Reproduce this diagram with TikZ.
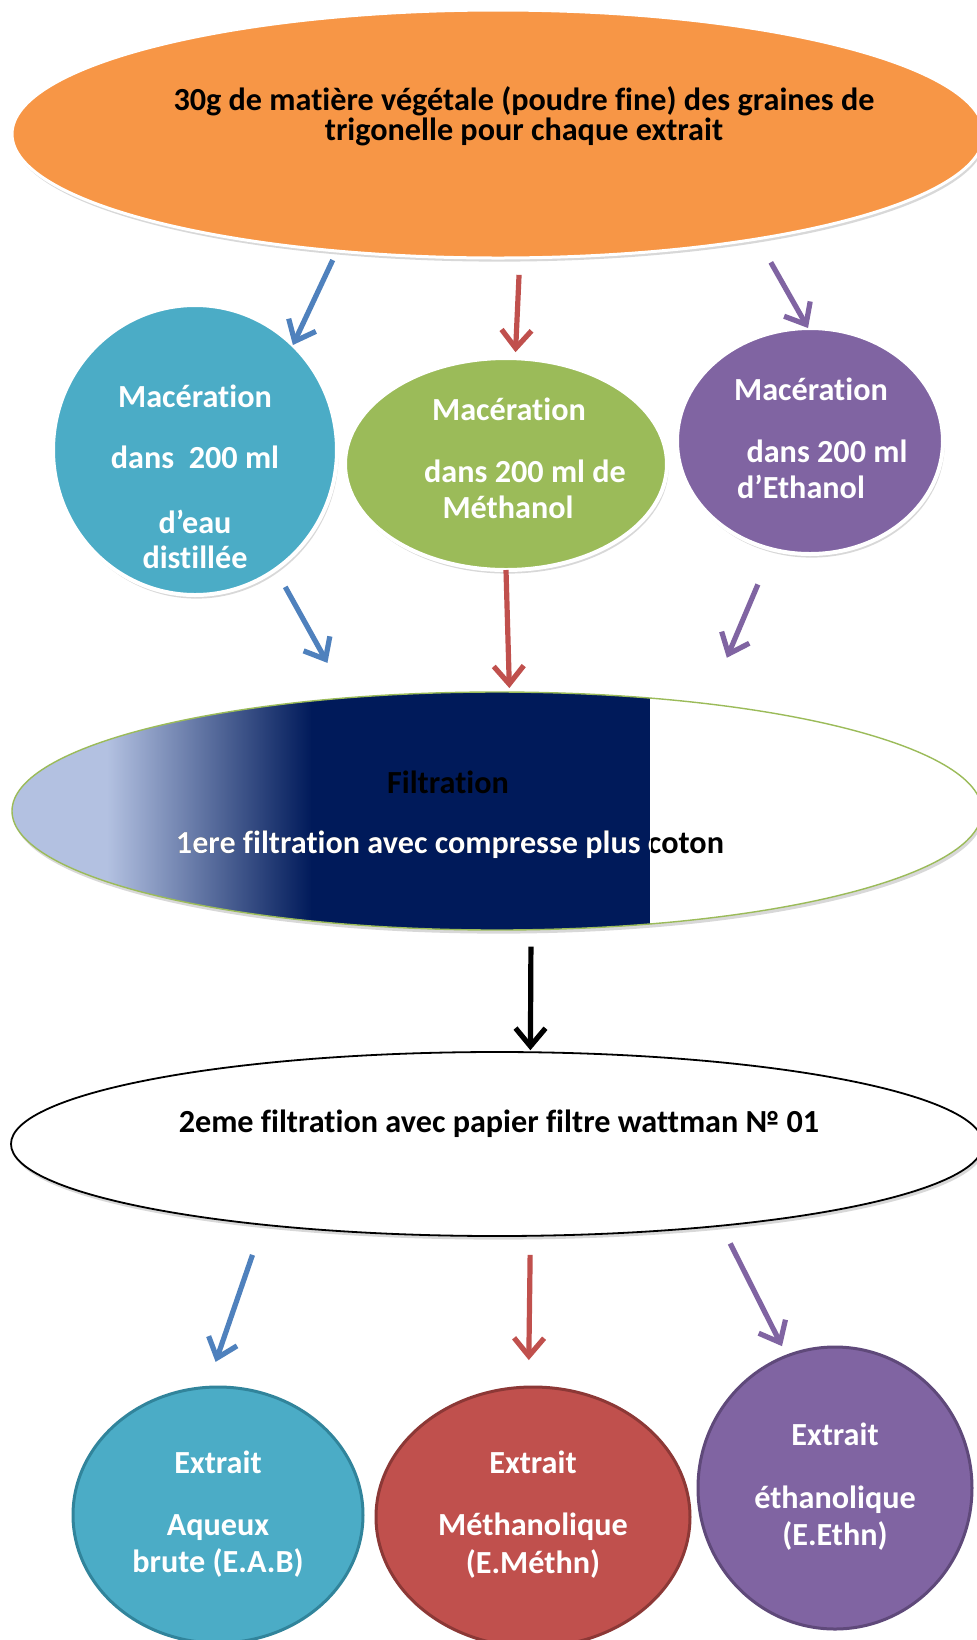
\documentclass[tikz,border=0pt]{standalone}
\usepackage{fontspec}
\setmainfont{Carlito}[Ligatures=NoCommon]
\usetikzlibrary{calc,shapes.geometric,arrows.meta,shadows}

\definecolor{orangeC}{HTML}{F79646}
\definecolor{canardC}{HTML}{4BACC6}
\definecolor{oliveC}{HTML}{9BBB59}
\definecolor{violetC}{HTML}{8064A2}
\definecolor{rougeC}{HTML}{C0504D}
\definecolor{flecheC}{HTML}{4F81BD}
\definecolor{marineC}{HTML}{001A5A}
\definecolor{clairC}{HTML}{B3C1E1}
\definecolor{bordcanard}{HTML}{31849B}
\definecolor{bordrouge}{HTML}{8C3836}
\definecolor{bordviolet}{HTML}{5F497A}

\begin{document}
\begin{tikzpicture}[
        x=0.5pt,y=-0.5pt
        ,forme/.style={ellipse,inner sep=0pt,outer sep=0pt}
        ,ombre/.style={drop shadow={opacity=0.3,shadow xshift=0.8pt,shadow yshift=-1.8pt}}
        ,macer/.style={forme,ombre,draw=white,line width=2pt}
        ,extr/.style={forme,line width=1.5pt}
        ,txt/.style={font=\bfseries\fontsize{16.1}{18}\selectfont,text=white,inner sep=0pt,anchor=base}
        ,noir/.style={txt,text=black}
        ,fleche/.style={line width=2.6pt,-{Straight Barb[length=9pt,width=15pt]}}
    ]
    \useasboundingbox[fill=white] (0,0) rectangle (976,1640);
    % Matiere vegetale
    \node[macer,fill=orangeC,line width=1.5pt,minimum width=486pt,minimum height=124pt] (top) at (498,134) {};
    \node[noir] (t1) at (524,110) {30g de matière végétale (poudre fine) des graines de};
    \node[noir] (t2) at (524,140) {trigonelle pour chaque extrait};
    % Macerations
    \node[macer,fill=canardC,minimum width=142pt,minimum height=145pt] (mac1) at (195,450) {};
    \node[macer,fill=oliveC,minimum width=161pt,minimum height=106pt] (mac2) at (506,464) {};
    \node[macer,fill=violetC,minimum width=133pt,minimum height=113pt] (mac3) at (810,441) {};
    \node[txt] (m1a) at (195,407) {Macération};
    \node[txt] (m1b) at (195,468) {dans~~200 ml};
    \node[txt] (m1c) at (195,533) {d’eau};
    \node[txt] (m1d) at (195,568) {distillée};
    \node[txt] (m2a) at (509,420) {Macération};
    \node[txt] (m2b) at (525,482) {dans 200 ml de};
    \node[txt] (m2c) at (508,518) {Méthanol};
    \node[txt] (m3a) at (811,400) {Macération};
    \node[txt] (m3b) at (827,462) {dans 200 ml};
    \node[txt] (m3c) at (801,498) {d’Ethanol};
    % Filtrations
    \node[forme,ombre,fill=white,draw=oliveC,line width=0.7pt,minimum width=485pt,minimum height=119pt
        ,path picture={
            \fill[clairC] (path picture bounding box.north west) rectangle ($(path picture bounding box.south west)+(96,0)$);
            \shade[left color=clairC,right color=marineC] ($(path picture bounding box.north west)+(95,0)$) rectangle ($(path picture bounding box.south west)+(300,0)$);
            \fill[marineC] ($(path picture bounding box.north west)+(299,0)$) rectangle ($(path picture bounding box.south west)+(638,0)$);
        }] (filt) at (497,811) {};
    \node[noir] (f1) at (448,793) {Filtration};
    \node[noir] (f2) at (450,853) {1ere filtration avec compresse plus coton};
    \begin{scope}
        \clip (0,680) rectangle (650,940);
        \node[txt] (f2w) at (450,853) {1ere filtration avec compresse plus coton};
    \end{scope}
    \node[forme,ombre,fill=white,draw=black,line width=0.9pt,minimum width=486pt,minimum height=92pt] (filt2) at (497,1144) {};
    \node[noir] (g1) at (499,1132) {2eme filtration avec papier filtre wattman № 01};
    % Extraits
    \node[extr,fill=canardC,draw=bordcanard,minimum width=145pt,minimum height=128pt] (ext1) at (218,1515) {};
    \node[extr,fill=rougeC,draw=bordrouge,minimum width=157pt,minimum height=130pt] (ext2) at (533,1517) {};
    \node[extr,fill=violetC,draw=bordviolet,minimum width=137pt,minimum height=141pt] (ext3) at (835,1488) {};
    \node[txt] (e1a) at (218,1473) {Extrait};
    \node[txt] (e1b) at (218,1535) {Aqueux};
    \node[txt] (e1c) at (218,1572) {brute (E.A.B)};
    \node[txt] (e2a) at (533,1473) {Extrait};
    \node[txt] (e2b) at (533,1535) {Méthanolique};
    \node[txt] (e2c) at (533,1573) {(E.Méthn)};
    \node[txt] (e3a) at (835,1445) {Extrait};
    \node[txt] (e3b) at (835,1508) {éthanolique};
    \node[txt] (e3c) at (835,1545) {(E.Ethn)};
    % Fleches
    \draw[fleche,flecheC,shorten <=5pt] (top.216) -- (mac1.47);
    \draw[fleche,rougeC,shorten <=8.5pt,shorten >=3pt] (top.280) -- (mac2.85);
    \draw[fleche,violetC,shorten <=13.5pt] (top.338) -- (mac3.91);
    \draw[fleche,flecheC,shorten <=10pt,shorten >=20pt] (mac1.304) -- (filt.143);
    \draw[fleche,rougeC,shorten >=2pt] (mac2.south) -- (filt.84);
    \draw[fleche,violetC,shorten <=19pt,shorten >=25pt] (mac3.251) -- (filt.27);
    \draw[fleche,black,shorten <=8.5pt,shorten >=1pt] (filt.286) -- (filt2.70);
    \draw[fleche,flecheC,shorten <=16pt,shorten >=13.5pt] (filt2.199) -- (ext1.95);
    \draw[fleche,rougeC,shorten <=9.5pt,shorten >=13.5pt] (filt2.290) -- (ext2.92);
    \draw[fleche,violetC,shorten <=10pt,shorten >=5.5pt] (filt2.340) -- (ext3.110);
\end{tikzpicture}
\end{document}
